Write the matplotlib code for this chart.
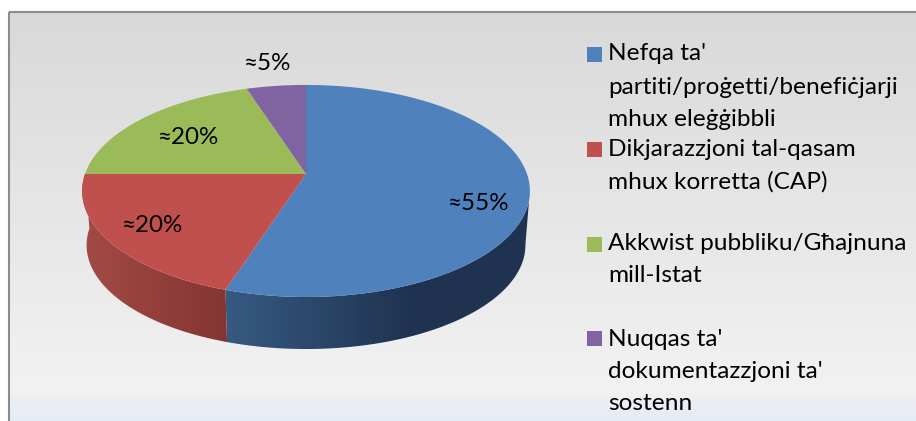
import numpy as np
import matplotlib
matplotlib.use('Agg')
import matplotlib.pyplot as plt
from matplotlib.colors import LinearSegmentedColormap
from matplotlib.patches import Polygon, Rectangle

# values
shares = [55, 20, 20, 5]
pct_labels = ['≈55%', '≈20%', '≈20%', '≈5%']
top_colors = ['#4F81BD', '#C0504D', '#9BBB59', '#8064A2']
# only blue and red show a side
side_left = ['#375A82', '#A34A46', None, None]
side_right = ['#1F3350', '#843533', None, None]
legend_lines = [["Nefqa ta'", 'partiti/proġetti/benefiċjarji', 'mhux eleġġibbli'],
                ['Dikjarazzjoni tal-qasam', 'mhux korretta (CAP)'],
                ['Akkwist pubbliku/Għajnuna', 'mill-Istat'],
                ["Nuqqas ta'", "dokumentazzjoni ta'", 'sostenn']]

# pie geometry in pixels
cx, cy = 306, 174
rx, ry = 221, 103.3
persp = 0.16  # far edge shrinks, near edge grows
depth, bottom_scale = 54.5, 0.98
label_xy = [(479, 203), (153, 225), (189, 137), (268, 63)]
label_size = 17.4
legend_size = 17.6
legend_x = 608
line_y = [[53, 87, 119], [149, 182], [243, 276], [339, 371, 404]]
swatch_y = [54.5, 149.5, 244.5, 338.5]


def project(frac, scale=1.0, dy=0.0):
    t = np.asarray(frac) * 2 * np.pi
    w = 1 + persp * np.cos(t)
    return cx + scale * rx * np.sin(t) / w, cy + dy - scale * ry * np.cos(t) / w


fig = plt.figure(figsize=(9.16, 4.21), dpi=100, facecolor='white')
ax = fig.add_axes([0, 0, 1, 1])
ax.axis('off')

# background panel
bg = LinearSegmentedColormap.from_list('bg', [(0, '#D9D9D9'), (0.93, '#F2F2F2'), (0.955, '#EBEEF4'), (1, '#E6ECF6')])
ax.imshow(np.linspace(0, 1, 410)[:, None], cmap=bg, extent=(9, 916, 421, 12), aspect='auto', zorder=0)
ax.plot([9, 9], [421, 12], color='#8C8C8C', lw=1.5, zorder=1, solid_capstyle='butt')
ax.plot([9, 916], [12, 12], color='#8C8C8C', lw=1.5, zorder=1, solid_capstyle='butt')

edges = []
start = 0
for share in shares:
    edges.append((start, start + share))
    start += share

# sides of the pie
for (a, b), c_l, c_r in zip(edges, side_left, side_right):
    if c_l is None:
        continue
    fr = np.linspace(a, b, int((b - a) * 4) + 1) / 100
    xt, yt = project(fr)
    xb, yb = project(fr, bottom_scale, depth)
    i_t, i_b = xt.argmax(), xb.argmax()  # silhouette on the right
    pts = list(zip(xt[i_t:], yt[i_t:])) + list(zip(xb[i_b:], yb[i_b:]))[::-1]
    outline = Polygon(pts, facecolor='none', edgecolor='none', zorder=2)
    ax.add_patch(outline)
    x_lo = min(xt.min(), xb.min())
    x_hi = min(xb.max(), 410)
    cmap = LinearSegmentedColormap.from_list('side', [c_l, c_r])
    img = ax.imshow(np.linspace(0, 1, 256)[None, :], cmap=cmap, extent=(x_lo, x_hi, 360, 140),
                    aspect='auto', zorder=2)
    img.set_clip_path(outline)
    if xt.max() > x_hi:  # flat dark part past the shading
        img2 = ax.imshow([[1.0]], cmap=cmap, vmin=0, vmax=1, extent=(x_hi, xt.max() + 1, 360, 140),
                         aspect='auto', zorder=2)
        img2.set_clip_path(outline)

# top face
for (a, b), col in zip(edges, top_colors):
    fr = np.linspace(a, b, int((b - a) * 4) + 1) / 100
    xt, yt = project(fr)
    pts = [(cx, cy)] + list(zip(xt, yt))
    ax.add_patch(Polygon(pts, facecolor=col, edgecolor='none', zorder=3))

for lab, (x, y) in zip(pct_labels, label_xy):
    ax.text(x, y, lab, fontsize=label_size, family='Lato', ha='center', va='center', color='black', zorder=4)

# legend
for lines, ys, sy, col in zip(legend_lines, line_y, swatch_y, top_colors):
    ax.add_patch(Rectangle((587, sy - 7.5), 15, 15, facecolor=col, edgecolor='none', zorder=4))
    for txt, y in zip(lines, ys):
        ax.text(legend_x, y, txt, fontsize=legend_size, family='Lato', ha='left', va='center', color='black', zorder=4)

ax.set_xlim(0, 916)
ax.set_ylim(421, 0)
fig.savefig('out.png', dpi=100)
